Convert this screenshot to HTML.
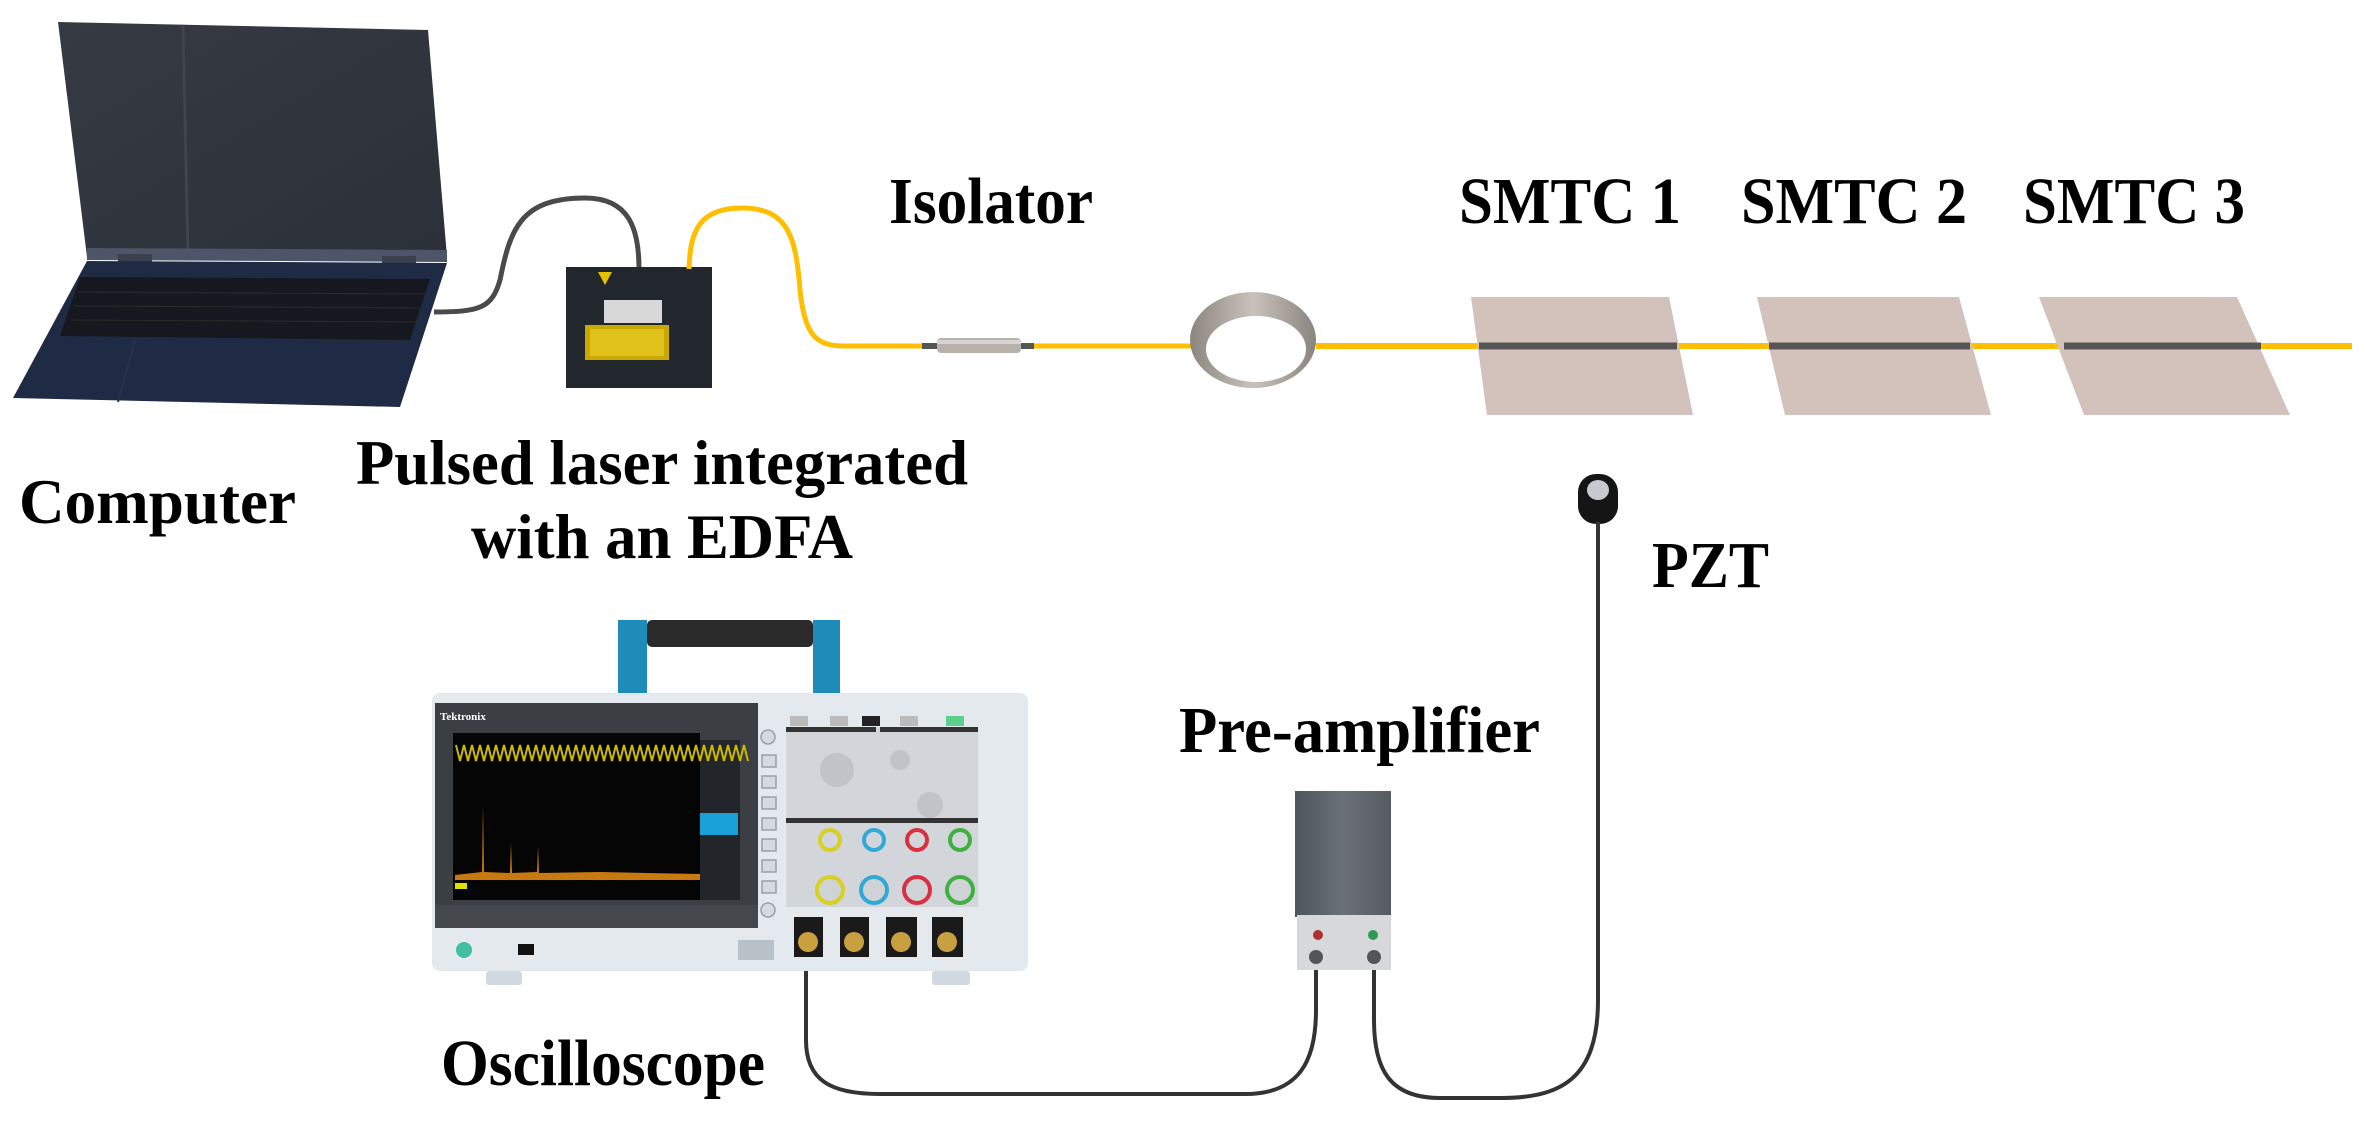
<!DOCTYPE html>
<html><head><meta charset="utf-8"><style>
html,body{margin:0;padding:0;background:#fff;}
svg{display:block;}
text{font-family:"Liberation Serif",serif;font-weight:bold;fill:#000;}
</style></head><body>
<svg width="2365" height="1121" viewBox="0 0 2365 1121" xmlns="http://www.w3.org/2000/svg">
<defs>
<linearGradient id="scr" x1="0" y1="0" x2="1" y2="1"><stop offset="0" stop-color="#363a42"/><stop offset="1" stop-color="#2c3038"/></linearGradient>
<linearGradient id="pre" x1="0" y1="0" x2="1" y2="0"><stop offset="0" stop-color="#4f555c"/><stop offset="0.5" stop-color="#6a7077"/><stop offset="1" stop-color="#555b62"/></linearGradient>
<linearGradient id="ring" x1="0" y1="0" x2="1" y2="0"><stop offset="0" stop-color="#8c8680"/><stop offset="0.5" stop-color="#c8c2bb"/><stop offset="1" stop-color="#8a847e"/></linearGradient>
</defs>

<!-- Laptop -->
<polygon points="58,22 428,30 447,257 87,257" fill="url(#scr)"/>
<line x1="183" y1="26" x2="188" y2="255" stroke="#40444c" stroke-width="3"/>
<polygon points="87,248 447,250 447,262 87,260" fill="#4d5568"/>
<rect x="118" y="254" width="34" height="8" fill="#3a404c"/>
<rect x="382" y="256" width="34" height="8" fill="#3a404c"/>
<polygon points="87,261 447,263 400,407 13,398" fill="#1f2a45"/>
<polygon points="80,277 430,279 410,340 60,336" fill="#15181e"/>
<g stroke="#2a2a28" stroke-width="1">
<line x1="78" y1="292" x2="427" y2="294"/><line x1="75" y1="306" x2="423" y2="308"/><line x1="71" y1="320" x2="418" y2="322"/>
</g>
<line x1="135" y1="340" x2="118" y2="402" stroke="#283250" stroke-width="2"/>

<!-- gray cable laptop -> laser -->
<path d="M434,312 C480,312 492,308 500,280 C510,230 520,198 585,198 C630,198 639,230 639,269" fill="none" stroke="#4a4a4a" stroke-width="5"/>

<!-- Laser box -->
<rect x="566" y="267" width="146" height="121" fill="#22272e"/>
<polygon points="598,272 612,272 605,285" fill="#e5c000"/>
<rect x="604" y="300" width="58" height="23" fill="#d8d8d8"/>
<rect x="585" y="325" width="84" height="35" fill="#c9a800"/>
<rect x="590" y="329" width="74" height="27" fill="#e0c21a"/>

<!-- Yellow fiber -->
<path d="M689,269 C690,230 700,208 742,208 C790,208 796,240 800,290 C805,335 815,346 845,346 L937,346" fill="none" stroke="#ffbf00" stroke-width="5"/>
<line x1="1021" y1="346" x2="1192" y2="346" stroke="#ffbf00" stroke-width="5"/>
<line x1="1316" y1="346" x2="2352" y2="346" stroke="#ffbf00" stroke-width="6"/>
<!-- Isolator -->
<rect x="922" y="343" width="18" height="6" fill="#555"/>
<rect x="1018" y="343" width="16" height="6" fill="#555"/>
<rect x="937" y="338" width="84" height="15" rx="4" fill="#b8b2ac"/>
<rect x="937" y="340" width="84" height="4" fill="#d8d4cf"/>
<!-- Coil ring -->
<ellipse cx="1253" cy="340" rx="63" ry="48" fill="url(#ring)"/>
<ellipse cx="1256" cy="349" rx="50" ry="33" fill="#fff"/>

<!-- SMTC plates -->
<polygon points="1471,297 1669,297 1693,415 1487,415" fill="#d3c2bb"/>
<polygon points="1757,297 1959,297 1991,415 1785,415" fill="#d3c2bb"/>
<polygon points="2039,297 2237,297 2290,415 2084,415" fill="#d3c2bb"/>
<line x1="1479" y1="346" x2="1677" y2="346" stroke="#555" stroke-width="7"/>
<line x1="1769" y1="346" x2="1970" y2="346" stroke="#555" stroke-width="7"/>
<line x1="2064" y1="346" x2="2261" y2="346" stroke="#555" stroke-width="7"/>

<!-- PZT -->
<rect x="1578" y="474" width="40" height="50" rx="18" fill="#151515"/>
<ellipse cx="1598" cy="490" rx="11" ry="10" fill="#c8c8d0"/>
<!-- cables bottom -->
<path d="M1598,522 L1598,1000 C1598,1080 1560,1098 1500,1098 L1440,1098 C1390,1098 1374,1070 1374,1020 L1374,960" fill="none" stroke="#333" stroke-width="4"/>
<path d="M806,958 L806,1040 C806,1080 830,1094 880,1094 L1245,1094 C1300,1094 1316,1060 1316,1010 L1316,960" fill="none" stroke="#333" stroke-width="4"/>

<!-- Pre-amplifier -->
<rect x="1295" y="791" width="96" height="126" fill="url(#pre)"/>
<rect x="1297" y="915" width="94" height="55" fill="#d6d8da"/>
<circle cx="1318" cy="935" r="5" fill="#b03030"/>
<circle cx="1373" cy="935" r="5" fill="#2e9a50"/>
<circle cx="1316" cy="957" r="7" fill="#555"/>
<circle cx="1374" cy="957" r="7" fill="#555"/>

<!-- Oscilloscope -->
<rect x="618" y="620" width="29" height="75" fill="#1e8bb8"/>
<rect x="813" y="620" width="27" height="75" fill="#1e8bb8"/>
<rect x="647" y="620" width="166" height="27" rx="5" fill="#2a2a2a"/>
<rect x="432" y="693" width="596" height="278" rx="8" fill="#e4e9ee"/>
<rect x="435" y="703" width="323" height="225" fill="#3b3f44"/>
<rect x="453" y="733" width="247" height="167" fill="#050505"/>
<rect x="700" y="740" width="40" height="160" fill="#22262b"/>
<rect x="700" y="813" width="38" height="22" fill="#1aa0d8"/>
<path d="M456,745 l4,16 l4,-16 l4,16 l4,-16 l4,16 l4,-16 l4,16 l4,-16 l4,16 l4,-16 l4,16 l4,-16 l4,16 l4,-16 l4,16 l4,-16 l4,16 l4,-16 l4,16 l4,-16 l4,16 l4,-16 l4,16 l4,-16 l4,16 l4,-16 l4,16 l4,-16 l4,16 l4,-16 l4,16 l4,-16 l4,16 l4,-16 l4,16 l4,-16 l4,16 l4,-16 l4,16 l4,-16 l4,16 l4,-16 l4,16 l4,-16 l4,16 l4,-16 l4,16 l4,-16 l4,16 l4,-16 l4,16 l4,-16 l4,16 l4,-16 l4,16 l4,-16 l4,16 l4,-16 l4,16 l4,-16 l4,16 l4,-16 l4,16 l4,-16 l4,16 l4,-16 l4,16 l4,-16 l4,16 l4,-16 l4,16 l4,-16 l4,16" fill="none" stroke="#c9b800" stroke-width="2"/>
<path d="M455,875 L482,872 L483,805 L484,872 L510,873 L511,842 L512,873 L537,872 L538,846 L539,873 L600,872 L700,874 L700,880 L455,880Z" fill="#c87a10"/>
<rect x="455" y="883" width="12" height="6" fill="#e0e000"/>
<rect x="435" y="905" width="323" height="23" fill="#44484d"/>
<g fill="#d6dade" stroke="#9aa0a6" stroke-width="1.5">
<circle cx="768" cy="737" r="7"/><rect x="762" y="755" width="14" height="12"/><rect x="762" y="776" width="14" height="12"/><rect x="762" y="797" width="14" height="12"/><rect x="762" y="818" width="14" height="12"/><rect x="762" y="839" width="14" height="12"/><rect x="762" y="860" width="14" height="12"/><rect x="762" y="881" width="14" height="12"/><circle cx="768" cy="910" r="7"/>
</g>
<rect x="786" y="727" width="192" height="180" fill="#d2d6da"/>
<rect x="786" y="727" width="90" height="5" fill="#333"/><rect x="880" y="727" width="98" height="5" fill="#333"/>
<rect x="786" y="818" width="192" height="5" fill="#333"/>
<rect x="790" y="716" width="18" height="10" fill="#bbb"/><rect x="830" y="716" width="18" height="10" fill="#bbb"/><rect x="862" y="716" width="18" height="10" fill="#222"/><rect x="900" y="716" width="18" height="10" fill="#bbb"/><rect x="946" y="716" width="18" height="10" fill="#5ad08a"/>
<circle cx="837" cy="770" r="17" fill="#c0c4c8"/>
<circle cx="930" cy="805" r="13" fill="#c0c4c8"/>
<circle cx="900" cy="760" r="10" fill="#c0c4c8"/>
<circle cx="830" cy="840" r="10" fill="none" stroke="#d8d020" stroke-width="4"/>
<circle cx="874" cy="840" r="10" fill="none" stroke="#30a8d8" stroke-width="4"/>
<circle cx="917" cy="840" r="10" fill="none" stroke="#d83040" stroke-width="4"/>
<circle cx="960" cy="840" r="10" fill="none" stroke="#40b040" stroke-width="4"/>
<circle cx="830" cy="890" r="13" fill="#cfd3d6" stroke="#d8d020" stroke-width="4"/>
<circle cx="874" cy="890" r="13" fill="#cfd3d6" stroke="#30a8d8" stroke-width="4"/>
<circle cx="917" cy="890" r="13" fill="#cfd3d6" stroke="#d83040" stroke-width="4"/>
<circle cx="960" cy="890" r="13" fill="#cfd3d6" stroke="#40b040" stroke-width="4"/>
<rect x="794" y="917" width="29" height="40" fill="#1a1a1a"/><circle cx="808" cy="942" r="10" fill="#c8a040"/>
<rect x="840" y="917" width="29" height="40" fill="#1a1a1a"/><circle cx="854" cy="942" r="10" fill="#c8a040"/>
<rect x="886" y="917" width="31" height="40" fill="#1a1a1a"/><circle cx="901" cy="942" r="10" fill="#c8a040"/>
<rect x="932" y="917" width="31" height="40" fill="#1a1a1a"/><circle cx="947" cy="942" r="10" fill="#c8a040"/>
<circle cx="464" cy="950" r="8" fill="#40c0a0"/>
<rect x="518" y="944" width="16" height="11" fill="#111"/>
<rect x="738" y="940" width="36" height="20" fill="#b8c0c8"/>
<rect x="486" y="971" width="36" height="14" rx="3" fill="#d0d8e0"/>
<rect x="932" y="971" width="38" height="14" rx="3" fill="#d0d8e0"/>
<text x="440" y="720" font-size="11" style="fill:#fff">Tektronix</text>

<!-- Labels -->
<text x="889" y="223" font-size="66" textLength="204" lengthAdjust="spacingAndGlyphs">Isolator</text>
<text x="1459" y="223" font-size="66" textLength="222" lengthAdjust="spacingAndGlyphs">SMTC 1</text>
<text x="1741" y="223" font-size="66" textLength="226" lengthAdjust="spacingAndGlyphs">SMTC 2</text>
<text x="2023" y="223" font-size="66" textLength="222" lengthAdjust="spacingAndGlyphs">SMTC 3</text>
<text x="19" y="523" font-size="64" textLength="277" lengthAdjust="spacingAndGlyphs">Computer</text>
<text x="356" y="484" font-size="64" textLength="612" lengthAdjust="spacingAndGlyphs">Pulsed laser integrated</text>
<text x="471" y="558" font-size="64" textLength="382" lengthAdjust="spacingAndGlyphs">with an EDFA</text>
<text x="1652" y="587" font-size="66" textLength="117" lengthAdjust="spacingAndGlyphs">PZT</text>
<text x="1179" y="752" font-size="66" textLength="361" lengthAdjust="spacingAndGlyphs">Pre-amplifier</text>
<text x="441" y="1085" font-size="66" textLength="324" lengthAdjust="spacingAndGlyphs">Oscilloscope</text>
</svg>
</body></html>
